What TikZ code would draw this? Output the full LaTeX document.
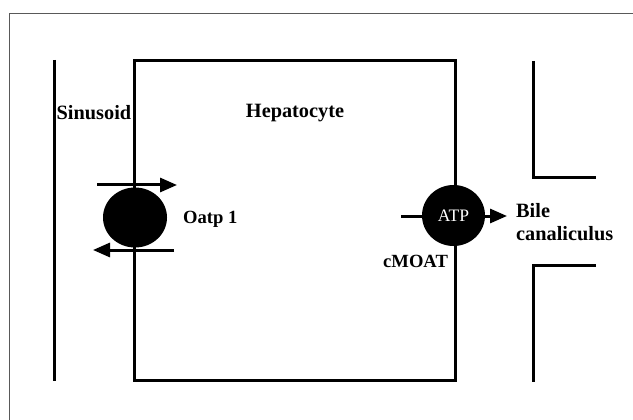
\documentclass[tikz,border=0pt]{standalone}
\usepackage{fontspec}
\setmainfont{Liberation Serif}
\usetikzlibrary{arrows.meta,shapes.geometric}
\begin{document}
\begin{tikzpicture}[x=1pt,y=-1pt,
  wall/.style={line width=3pt},
  pump/.style={ellipse, fill=black, draw=none, minimum width=64pt, minimum height=60pt, inner sep=0pt},
  flow/.style={line width=3pt, -{Triangle[length=17pt,width=14pt]}},
  lbl/.style={font=\fontsize{20.3}{23}\selectfont\bfseries, inner sep=0pt},
  slbl/.style={font=\fontsize{18.6}{21}\selectfont\bfseries, inner sep=0pt},
  frame/.style={line width=1pt, draw=black!65}]
\useasboundingbox (0,0) rectangle (633,420);
\fill[white] (0,0) rectangle (633,420);
% outer frame
\draw[frame] (9.5,420) -- (9.5,13.5) -- (633,13.5);
% sinusoid wall
\coordinate (s1) at (54,60);
\coordinate (s2) at (54,381);
\draw[wall] (s1) -- (s2);
% hepatocyte box
\coordinate (h1) at (134.5,60.5);
\coordinate (h2) at (455.5,380.5);
\draw[wall] (h1) rectangle (h2);
% bile canaliculus walls
\coordinate (b1) at (533,61);
\coordinate (b2) at (533,178);
\coordinate (b3) at (596,178);
\coordinate (b4) at (596,265);
\coordinate (b5) at (533,265);
\coordinate (b6) at (533,382);
\draw[wall] (b1) -- (b2) -- (b3);
\draw[wall] (b4) -- (b5) -- (b6);
% Oatp 1 transporter
\node[pump] (oatp) at (135,217.5) {};
\coordinate (a1s) at (97,185);
\coordinate (a1e) at (177,185);
\coordinate (a2s) at (174,250);
\coordinate (a2e) at (93,250);
\draw[flow] (a1s) -- (a1e);
\draw[flow] (a2s) -- (a2e);
% cMOAT transporter
\coordinate (c1s) at (401,216);
\coordinate (c1e) at (507,216);
\draw[flow] (c1s) -- (c1e);
\node[pump, minimum width=63pt, minimum height=61pt] (cmoat) at (453.5,215.5) {};
\node[font=\fontsize{17.5}{19}\selectfont, text=white, inner sep=0pt] (atp) at (453.5,216) {ATP};
% labels
\node[lbl, anchor=west] (sinus) at (56.5,113) {Sinusoid};
\node[lbl] (hep) at (295,113) {Hepatocyte};
\node[slbl, anchor=west] (oat) at (183,219) {Oatp 1};
\node[slbl, anchor=west] (cm) at (383,261) {cMOAT};
\node[lbl, anchor=west, align=left] (bile) at (516,222) {Bile\\canaliculus};
\end{tikzpicture}
\end{document}
